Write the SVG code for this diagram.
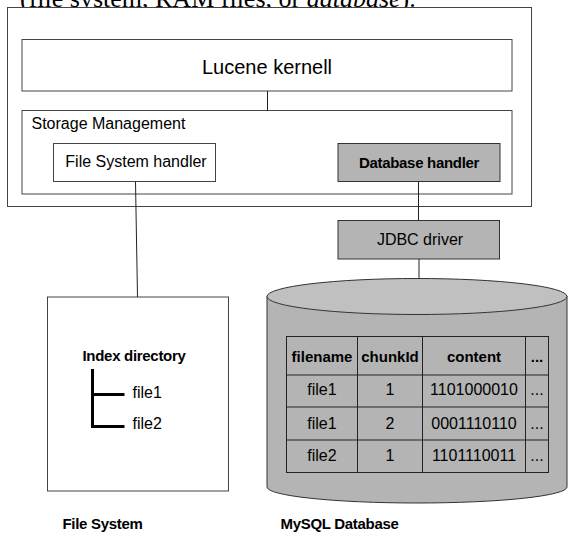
<svg xmlns="http://www.w3.org/2000/svg" width="568" height="533" viewBox="0 0 568 533">
<style>
text{font-family:"Liberation Sans",Arial,sans-serif;fill:#000}
.box{fill:#fff;stroke:#444;stroke-width:1}
.gbox{fill:#b4b4b4;stroke:#333;stroke-width:1}
.r{font-size:16px}
.b{font-size:15px;font-weight:bold;letter-spacing:-0.3px}
.c{text-anchor:middle}
.ln{stroke:#222;stroke-width:1;fill:none}
.tree{stroke:#000;stroke-width:3;fill:none}
.cell{fill:none;stroke:#222;stroke-width:1}
</style>
<text x="20" y="7" style="font-family:'Liberation Serif','Times New Roman',serif;font-size:26px">(file system, RAM files, or <tspan font-style="italic">database</tspan>).</text>

<g id="container">
<rect class="box" x="7.5" y="7.5" width="524" height="199"/>
</g>
<g id="lucene">
<rect class="box" x="22" y="39.5" width="490" height="51.5"/>
<text class="c" x="267" y="74" style="font-size:20px">Lucene kernell</text>
</g>
<g id="storage">
<rect class="box" x="22" y="110.5" width="490" height="83.5"/>
<text x="31.5" y="128.5" class="r">Storage Management</text>
</g>
<g id="fshandler">
<rect class="box" x="53.5" y="143.5" width="162" height="38"/>
<text class="r c" x="136" y="167">File System handler</text>
</g>
<g id="dbhandler">
<rect class="gbox" x="338" y="143.5" width="162" height="38"/>
<text class="b c" x="419" y="167.5">Database handler</text>
</g>
<g id="jdbc">
<rect class="gbox" x="338" y="220.5" width="161.5" height="38.5"/>
<text class="r c" x="420" y="245">JDBC driver</text>
</g>
<g id="filesystem">
<rect class="box" x="47.5" y="297" width="181" height="194"/>
<text class="b" x="82.5" y="361">Index directory</text>
<path class="tree" d="M92.5,369 V426.5 H124.5 M92.5,394.5 H124.5"/>
<text class="r" x="132.5" y="397.5">file1</text>
<text class="r" x="132.5" y="428.5">file2</text>
<text class="b" x="62.5" y="529">File System</text>
</g>
<g id="mysql">
<path d="M267,296 V487 A150,16 0 0 0 567,487 V296 Z" fill="#b4b4b4" stroke="#333" stroke-width="1"/>
<ellipse cx="417" cy="296.5" rx="150" ry="18" fill="#c0c0c0" stroke="#333" stroke-width="1"/>
<g id="table">
<rect class="cell" x="286.5" y="336.5" width="262" height="136"/>
<path class="cell" d="M357.5,336.5 V472.5 M422.5,336.5 V472.5 M525.5,336.5 V472.5 M286.5,375 H548.5 M286.5,407 H548.5 M286.5,440 H548.5"/>
<text class="b c" x="322" y="362" style="letter-spacing:0">filename</text>
<text class="b c" x="390" y="362" style="letter-spacing:0">chunkId</text>
<text class="b c" x="474" y="362" style="letter-spacing:0">content</text>
<text class="b c" x="537" y="362" style="letter-spacing:0">...</text>
<text class="r c" x="322" y="394.5">file1</text>
<text class="r c" x="390" y="394.5">1</text>
<text class="r c" x="474" y="394.5">1101000010</text>
<text class="r c" x="537" y="394.5">...</text>
<text class="r c" x="322" y="428.5">file1</text>
<text class="r c" x="390" y="428.5">2</text>
<text class="r c" x="474" y="428.5">0001110110</text>
<text class="r c" x="537" y="428.5">...</text>
<text class="r c" x="322" y="461">file2</text>
<text class="r c" x="390" y="461">1</text>
<text class="r c" x="474" y="461">1101110011</text>
<text class="r c" x="537" y="461">...</text>
</g>
<text class="b" x="280.5" y="528.5">MySQL Database</text>
</g>
<g id="connectors">
<path class="ln" d="M267.5,91 V110.5"/>
<path class="ln" d="M135.5,181.5 L137.5,297"/>
<path class="ln" d="M418.5,181.5 V220.5"/>
<path class="ln" d="M419,259 V278.5"/>
</g>
</svg>
